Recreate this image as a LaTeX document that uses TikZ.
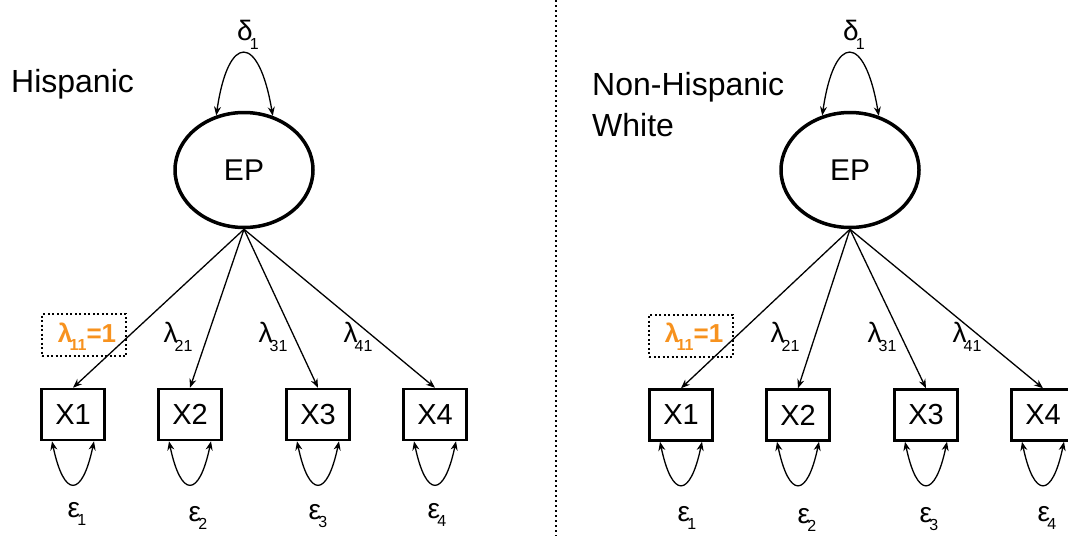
\documentclass[tikz,border=0pt]{standalone}
\usepackage{fontspec}
\setmainfont{Liberation Sans}
\usetikzlibrary{arrows.meta,calc,shapes.geometric}
\definecolor{lamorange}{HTML}{F7921E}
\newcommand\mysub[1]{\kern-0.1em\raisebox{-0.3em}{\fontsize{16}{16}\selectfont #1}}
\begin{document}
\begin{tikzpicture}[x=1pt,y=-1pt,
  latent/.style={draw,ellipse,line width=3.5pt,minimum width=138pt,minimum height=115pt,inner sep=0pt,font=\fontsize{30}{30}\selectfont},
  obs/.style={draw,rectangle,line width=2.5pt,minimum width=63pt,minimum height=51pt,inner sep=0pt,font=\fontsize{29}{29}\selectfont},
  greek/.style={inner sep=0pt,font=\fontsize{28}{28}\selectfont},
  grp/.style={inner sep=0pt,anchor=west,font=\fontsize{32}{41}\selectfont,align=left},
  load/.style={line width=1.3pt,-{Stealth[length=9pt,width=7pt]}},
  var/.style={line width=1.3pt,{Stealth[length=9pt,width=7pt]}-{Stealth[length=9pt,width=7pt]}},
  fixbox/.style={draw,line width=2pt,dash pattern=on 2pt off 2.5pt,minimum width=84pt,minimum height=42pt,inner sep=0pt},
  fixed/.style={inner sep=0pt,text=lamorange,font=\fontsize{26}{26}\selectfont\bfseries},
  divider/.style={line width=2pt,dash pattern=on 2pt off 3pt}
]
\useasboundingbox (0,0) rectangle (1068,536);
\coordinate (dtop) at (556,0);
\coordinate (dbot) at (556,536);
\draw[divider] (dtop) -- (dbot);

% ---------- Left panel: Hispanic ----------
\node[grp] (hlab) at (11,84) {Hispanic};
\node[latent] (hEP) at (244,170) {EP};
\node[greek] (hd) at (248,35) {δ\mysub{1}};
\draw[var] (hEP.117) .. controls ($(hEP.117)+(12,-83)$) and ($(hEP.62)+(-14,-83)$) .. (hEP.62);
\foreach \i/\cx in {1/73,2/190,3/318,4/435}{
  \node[obs] (hX\i) at (\cx,414.5) {X\i};
  \draw[load] (hEP.south) -- (hX\i.north);
  \draw[var] ($(hX\i.south)+(-21,0)$) .. controls ($(hX\i.south)+(-9,57)$) and ($(hX\i.south)+(9,57)$) .. ($(hX\i.south)+(21,0)$);
}
\node[fixbox] (hfix) at (84,335) {};
\node[fixed] (hl1) at (87,337) {λ\mysub{11}=1};
\node[greek] (hl2) at (178,337) {λ\mysub{21}};
\node[greek] (hl3) at (273,337) {λ\mysub{31}};
\node[greek] (hl4) at (358,337) {λ\mysub{41}};
\node[greek] (he1) at (77,514) {ε\mysub{1}};
\node[greek] (he2) at (198,518) {ε\mysub{2}};
\node[greek] (he3) at (318,516) {ε\mysub{3}};
\node[greek] (he4) at (437,515) {ε\mysub{4}};

% ---------- Right panel: Non-Hispanic White ----------
\node[grp] (wlab) at (592,104.5) {Non-Hispanic\\White};
\node[latent] (wEP) at (850,170) {EP};
\node[greek] (wd) at (854,35) {δ\mysub{1}};
\draw[var] (wEP.117) .. controls ($(wEP.117)+(12,-83)$) and ($(wEP.62)+(-14,-83)$) .. (wEP.62);
\foreach \i/\cx in {1/681,2/798,3/926,4/1043}{
  \node[obs] (wX\i) at (\cx,415) {X\i};
  \draw[load] (wEP.south) -- (wX\i.north);
  \draw[var] ($(wX\i.south)+(-21,0)$) .. controls ($(wX\i.south)+(-9,57)$) and ($(wX\i.south)+(9,57)$) .. ($(wX\i.south)+(21,0)$);
}
\node[fixbox] (wfix) at (691,335.5) {};
\node[fixed] (wl1) at (694,337) {λ\mysub{11}=1};
\node[greek] (wl2) at (785,337) {λ\mysub{21}};
\node[greek] (wl3) at (882,337) {λ\mysub{31}};
\node[greek] (wl4) at (967,337) {λ\mysub{41}};
\node[greek] (we1) at (687,518) {ε\mysub{1}};
\node[greek] (we2) at (807,520) {ε\mysub{2}};
\node[greek] (we3) at (929,519) {ε\mysub{3}};
\node[greek] (we4) at (1047,518) {ε\mysub{4}};
\end{tikzpicture}
\end{document}
